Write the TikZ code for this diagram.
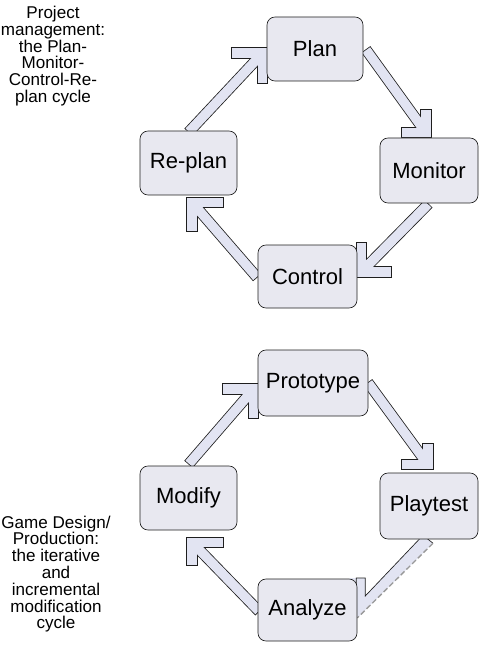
\documentclass[tikz,border=0pt]{standalone}
\usepackage{fontspec}
\setmainfont{Liberation Sans}
\usetikzlibrary{calc}
\definecolor{boxfill}{RGB}{232,232,240}
\definecolor{arrfill}{RGB}{226,228,242}
\definecolor{edgecol}{RGB}{30,30,30}
\tikzset{
  stage/.style={draw=edgecol, line width=0.5pt, fill=boxfill, rounded corners=6pt,
    inner sep=0pt, font=\fontsize{16.5}{19}\selectfont, text=black},
  arrout/.style={draw=edgecol, line width=8.3pt, line join=miter, line cap=butt,
    shorten <=-0.6pt, shorten >=-0.6pt},
  arrin/.style={draw=arrfill, line width=7.1pt, line join=miter, line cap=butt},
  sidenote/.style={align=center, inner sep=0pt, font=\fontsize{12.8}{12.6}\selectfont}
}
% #1 start, #2 corner, #3 arm1 offset, #4 arm2 offset
\newcommand\fatarr[4]{%
  \draw[arrout] (#1) -- (#2);
  \draw[arrout] ($(#2)+#3$) -- (#2) -- ($(#2)+#4$);
  \draw[arrin] (#1) -- (#2);
  \draw[arrin] ($(#2)+#3$) -- (#2) -- ($(#2)+#4$);
}
\begin{document}
\begin{tikzpicture}[x=0.75pt,y=-0.75pt]
\useasboundingbox[fill=white] (0,0) rectangle (500,652);

% side notes
\node[sidenote] (note1) at (53,56) {Project\\management:\\the Plan-\\Monitor-\\Control-Re-\\plan cycle};
\node[sidenote] (note2) at (56,574) {Game Design/\\Production:\\the iterative\\and\\incremental\\modification\\cycle};

% node placement (invisible first, boxes drawn after arrows)
\path
  (315,49)    node[minimum width=72pt, minimum height=48pt] (plan) {}
  (188.5,163) node[minimum width=72.75pt, minimum height=48pt] (replan) {}
  (429,170.5) node[minimum width=73.5pt, minimum height=48.75pt] (monitor) {}
  (307.5,276.5) node[minimum width=74.25pt, minimum height=47.25pt] (control) {}
  (313,383)   node[minimum width=82.5pt, minimum height=49.5pt] (prototype) {}
  (188.5,498) node[minimum width=72.75pt, minimum height=48pt] (modify) {}
  (429,506)   node[minimum width=73.5pt, minimum height=49.5pt] (playtest) {}
  (307.5,610) node[minimum width=74.25pt, minimum height=46.5pt] (analyze) {};

% connector anchor points
\coordinate (a1s) at ($(replan.north)+(0.5,1)$);
\coordinate (a1c) at ($(plan.west)+(-4,4)$);
\coordinate (a2s) at ($(plan.east)+(3,1)$);
\coordinate (a2c) at ($(monitor.north)+(-3,-5)$);
\coordinate (a3s) at ($(monitor.south)+(-1,1)$);
\coordinate (a3c) at ($(control.east)+(4,-4.5)$);
\coordinate (a4s) at ($(control.west)+(-1,0.5)$);
\coordinate (a4c) at ($(replan.south)+(3.5,7)$);
\coordinate (a5s) at ($(modify.north)+(0.5,-2)$);
\coordinate (a5c) at ($(prototype.west)+(-4,6)$);
\coordinate (a6s) at ($(prototype.east)+(0,0)$);
\coordinate (a6c) at ($(playtest.north)+(-1,-8)$);
\coordinate (a8s) at ($(analyze.west)+(1,1)$);
\coordinate (a8c) at ($(modify.south)+(3.5,12)$);

\fatarr{a1s}{a1c}{(-31,0)}{(0,30)}
\fatarr{a2s}{a2c}{(-24,0)}{(0,-23)}
\fatarr{a3s}{a3c}{(30,0)}{(0,-29)}
\fatarr{a4s}{a4c}{(31,0)}{(0,29)}
\fatarr{a5s}{a5c}{(-31,0)}{(0,29)}
\fatarr{a6s}{a6c}{(-26,0)}{(0,-21)}
\fatarr{a8s}{a8c}{(31,0)}{(0,23)}

% Playtest -> Analyze (partly hidden head, dashed lower edge)
\coordinate (a7p1) at ($(playtest.south)+(4,4)$);
\coordinate (a7p2) at ($(playtest.south)+(-6,-4)$);
\coordinate (a7p3) at ($(analyze.east)+(8,-14)$);
\coordinate (a7p4) at ($(analyze.east)+(8,-32)$);
\coordinate (a7p5) at ($(analyze.east)+(-1,-32)$);
\coordinate (a7p6) at ($(analyze.east)+(-8,-32)$);
\coordinate (a7p7) at ($(analyze.east)+(-8,14)$);
\coordinate (a7p8) at ($(analyze.east)+(0,8)$);
\fill[arrfill] (a7p1) -- (a7p2) -- (a7p3) -- (a7p4) -- (a7p6) -- (a7p7) -- (a7p8) -- cycle;
\draw[edgecol, line width=0.5pt] (a7p1) -- (a7p2) -- (a7p3) -- (a7p4) -- (a7p5) -- ($(a7p5)+(0,14)$);
\draw[black!40, line width=1pt, dash pattern=on 4pt off 2pt] (a7p1) -- (a7p8);

% boxes with labels
\node[stage, minimum width=72pt, minimum height=48pt] at (plan) {Plan};
\node[stage, minimum width=72.75pt, minimum height=48pt] at (replan) {Re-plan};
\node[stage, minimum width=73.5pt, minimum height=48.75pt] at (monitor) {Monitor};
\node[stage, minimum width=74.25pt, minimum height=47.25pt] at (control) {Control};
\node[stage, minimum width=82.5pt, minimum height=49.5pt] at (prototype) {Prototype};
\node[stage, minimum width=72.75pt, minimum height=48pt] at (modify) {Modify};
\node[stage, minimum width=73.5pt, minimum height=49.5pt] at (playtest) {Playtest};
\node[stage, minimum width=74.25pt, minimum height=46.5pt] at (analyze) {Analyze};
\end{tikzpicture}
\end{document}
